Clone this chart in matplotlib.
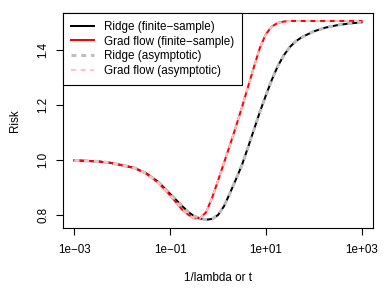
import numpy as np
import matplotlib
matplotlib.use("Agg")
import matplotlib.pyplot as plt

plt.rcParams['font.family'] = ['Liberation Sans', 'DejaVu Sans']

# values (log10 of 1/lambda or t, risk)
log_x = [-3.0, -2.5, -2.25, -2.0, -1.75, -1.5, -1.25, -1.0, -0.75, -0.625,
         -0.5, -0.375, -0.25, -0.125, 0.0, 0.125, 0.25, 0.375, 0.5, 0.625,
         0.75, 0.875, 1.0, 1.125, 1.25, 1.375, 1.5, 1.625, 1.75, 2.0, 2.25,
         2.5, 2.75, 3.0]

risk_ridge = [0.999, 0.995, 0.990, 0.981, 0.972, 0.952, 0.921, 0.877, 0.833, 0.812,
              0.796, 0.788, 0.783, 0.786, 0.800, 0.832, 0.880, 0.930, 0.982, 1.045,
              1.110, 1.175, 1.235, 1.292, 1.342, 1.381, 1.411, 1.432, 1.447, 1.468,
              1.482, 1.491, 1.497, 1.501]

risk_gf = [0.999, 0.995, 0.990, 0.981, 0.971, 0.951, 0.918, 0.872, 0.820, 0.802,
           0.788, 0.789, 0.810, 0.862, 0.925, 0.990, 1.055, 1.122, 1.192, 1.265,
           1.338, 1.408, 1.458, 1.486, 1.499, 1.504, 1.506, 1.506, 1.506, 1.506,
           1.506, 1.506, 1.506, 1.506]

# asymptotic curves are indistinguishable from the finite-sample ones
risk_ridge_asym = list(risk_ridge)
risk_gf_asym = list(risk_gf)

x = 10 ** np.array(log_x)

fig = plt.figure(figsize=(3.88, 2.92), dpi=100)
ax = fig.add_axes([63 / 388, 1 - 228 / 292, 310 / 388, 215 / 292])

ax.plot(x, risk_ridge, color='black', lw=1.45, label='Ridge (finite\u2212sample)')
ax.plot(x, risk_gf, color='red', lw=1.45, label='Grad flow (finite\u2212sample)')
ax.plot(x, risk_ridge_asym, color='#BEBEBE', lw=2.2, ls=(0, (1.6, 1.6)),
        label='Ridge (asymptotic)')
ax.plot(x, risk_gf_asym, color='pink', lw=1.45, ls=(0, (2.4, 2.4)),
        label='Grad flow (asymptotic)')

ax.set_xscale('log')
ax.set_xlim(10 ** -3.24, 10 ** 3.24)
ax.set_ylim(0.753, 1.535)

ax.set_xticks([1e-3, 1e-1, 1e1, 1e3])
ax.set_xticklabels(['1e\u221203', '1e\u221201', '1e+01', '1e+03'])
ax.xaxis.set_minor_locator(matplotlib.ticker.NullLocator())
ax.set_yticks([0.8, 1.0, 1.2, 1.4])
ax.set_yticklabels(['0.8', '1.0', '1.2', '1.4'], rotation=90, va='center')

ax.tick_params(axis='both', direction='out', length=5, width=0.8,
               labelsize=8.4, color='black')
ax.tick_params(axis='x', pad=6.5)
ax.tick_params(axis='y', pad=5)
for s in ax.spines.values():
    s.set_linewidth(0.8)
    s.set_color('black')

ax.set_xlabel('1/lambda or t', fontsize=8.4)
ax.xaxis.set_label_coords(0.5, -(278 - 228) / 215)
ax.xaxis.label.set_va('center')
ax.set_ylabel('Risk', fontsize=8.4)
ax.yaxis.set_label_coords(-(63 - 15) / 310, 0.5)
ax.yaxis.label.set_va('center')

leg = ax.legend(loc='upper left', borderaxespad=0, fontsize=8.4, fancybox=False,
                framealpha=1, edgecolor='black', handlelength=2.0,
                handletextpad=0.85, borderpad=0.65, labelspacing=0.25)
leg.get_frame().set_linewidth(0.8)

fig.savefig('out.png', dpi=100)
